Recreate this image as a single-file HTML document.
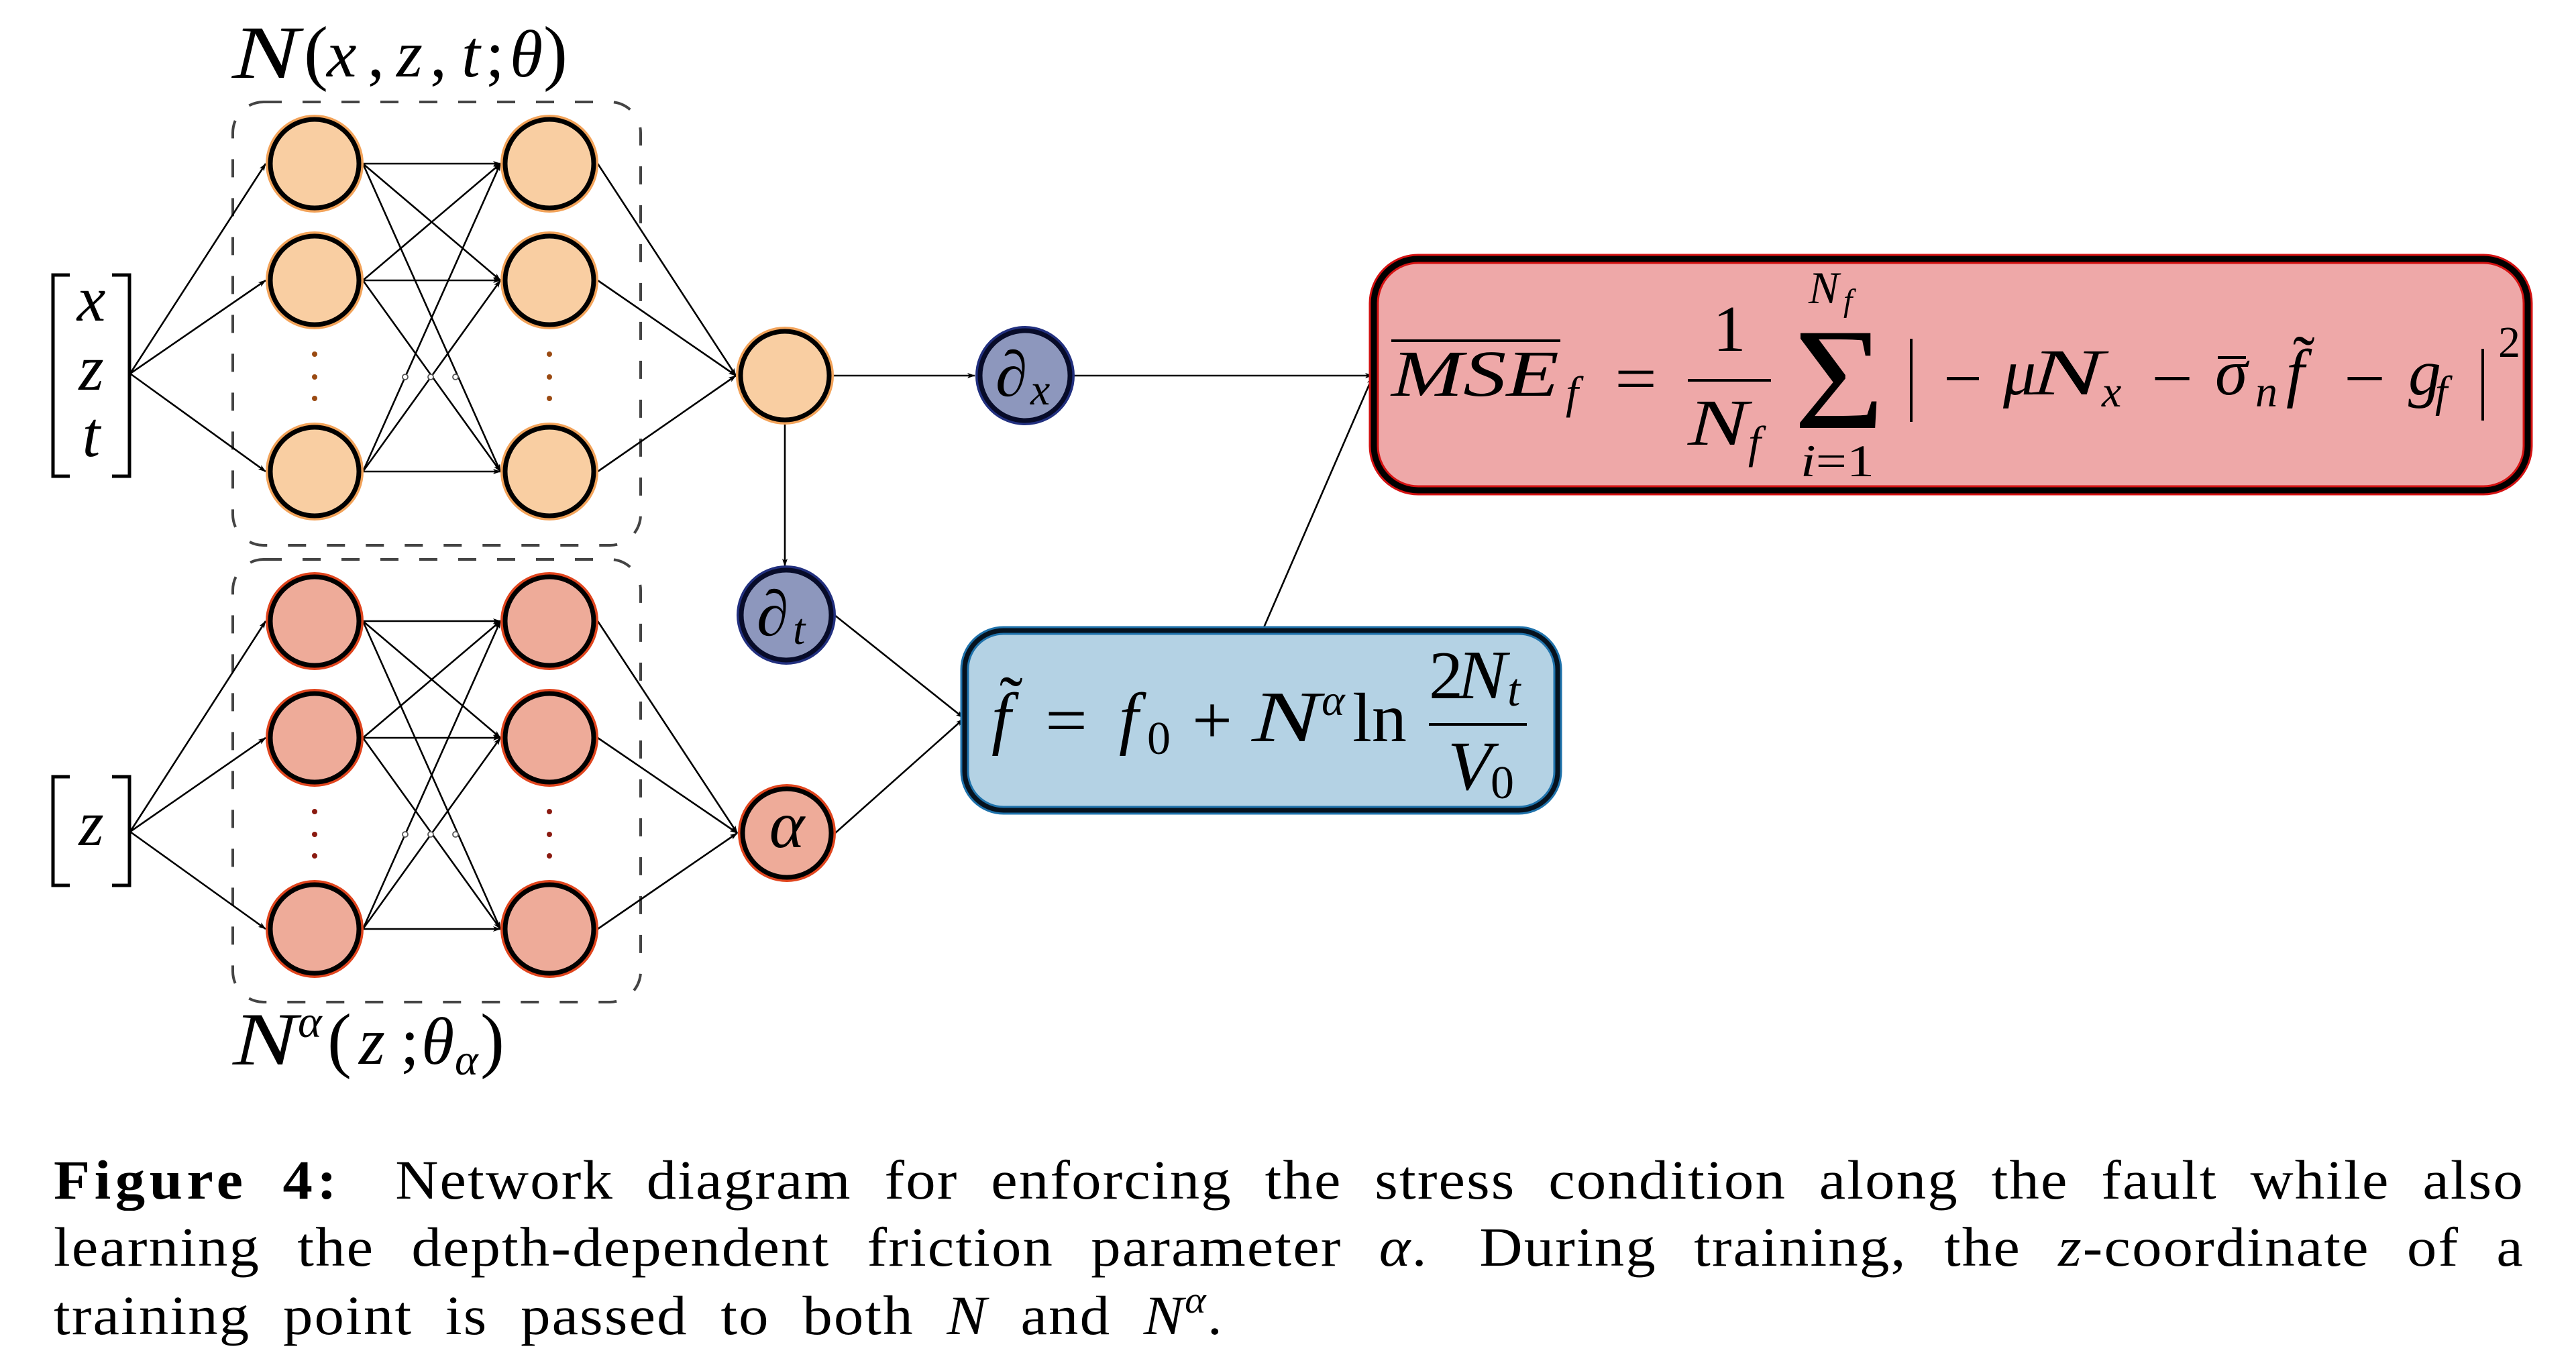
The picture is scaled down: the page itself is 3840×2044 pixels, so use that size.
<!DOCTYPE html>
<html>
<head>
<meta charset="utf-8">
<style>
  html,body{margin:0;padding:0;background:#fff;}
  body{width:3840px;height:2044px;position:relative;overflow:hidden;}
  svg{position:absolute;left:0;top:0;}
  .i{font-family:"Liberation Serif","DejaVu Serif",serif;font-style:italic;fill:#000;}
  .u{font-family:"Liberation Serif","DejaVu Serif",serif;font-style:normal;fill:#000;}
  .cap{position:absolute;left:80px;font-family:"Liberation Serif","DejaVu Serif",serif;font-size:83px;line-height:83px;
       color:#000;text-align:justify;text-align-last:justify;letter-spacing:2px;transform:scaleX(1.07);transform-origin:0 0;white-space:normal;}
  .cap i{font-style:italic;}
  .cap b{font-weight:bold;letter-spacing:6px;}
  .sup{position:relative;top:-32px;font-size:56px;font-style:italic;}
</style>
</head>
<body>
<svg width="3840" height="2044" viewBox="0 0 3840 2044" xmlns="http://www.w3.org/2000/svg">
  <defs>
    <marker id="ar" viewBox="0 0 12 8" markerWidth="12" markerHeight="8" refX="11" refY="4" orient="auto" markerUnits="userSpaceOnUse">
      <path d="M0,0 L12,4 L0,8 L3,4 Z" fill="#000"/>
    </marker>
  </defs>

  <!-- ============ Dashed boxes ============ -->
  <rect x="347" y="152" width="608" height="661" rx="46" fill="none" stroke="#444" stroke-width="4" stroke-dasharray="27 31"/>
  <rect x="347" y="834" width="608" height="660" rx="46" fill="none" stroke="#444" stroke-width="4" stroke-dasharray="27 31"/>

  <!-- ============ Connectors ============ -->
  <g stroke="#000" stroke-width="2.6" fill="none" marker-end="url(#ar)">
    <line x1="194" y1="557" x2="396" y2="244"/>
    <line x1="194" y1="557" x2="396" y2="418"/>
    <line x1="194" y1="557" x2="396" y2="703"/>
    <line x1="541" y1="244" x2="746" y2="244"/>
    <line x1="541" y1="244" x2="746" y2="418"/>
    <line x1="541" y1="244" x2="746" y2="703"/>
    <line x1="541" y1="418" x2="746" y2="244"/>
    <line x1="541" y1="418" x2="746" y2="418"/>
    <line x1="541" y1="418" x2="746" y2="703"/>
    <line x1="541" y1="703" x2="746" y2="244"/>
    <line x1="541" y1="703" x2="746" y2="418"/>
    <line x1="541" y1="703" x2="746" y2="703"/>
    <line x1="891" y1="244" x2="1097" y2="560"/>
    <line x1="891" y1="418" x2="1097" y2="560"/>
    <line x1="891" y1="703" x2="1097" y2="560"/>

    <line x1="194" y1="1240" x2="396" y2="926"/>
    <line x1="194" y1="1240" x2="396" y2="1100"/>
    <line x1="194" y1="1240" x2="396" y2="1385"/>
    <line x1="541" y1="926" x2="746" y2="926"/>
    <line x1="541" y1="926" x2="746" y2="1100"/>
    <line x1="541" y1="926" x2="746" y2="1385"/>
    <line x1="541" y1="1100" x2="746" y2="926"/>
    <line x1="541" y1="1100" x2="746" y2="1100"/>
    <line x1="541" y1="1100" x2="746" y2="1385"/>
    <line x1="541" y1="1385" x2="746" y2="926"/>
    <line x1="541" y1="1385" x2="746" y2="1100"/>
    <line x1="541" y1="1385" x2="746" y2="1385"/>
    <line x1="891" y1="926" x2="1099" y2="1242"/>
    <line x1="891" y1="1100" x2="1099" y2="1242"/>
    <line x1="891" y1="1385" x2="1099" y2="1242"/>

    <line x1="1241" y1="560" x2="1453" y2="560"/>
    <line x1="1600" y1="560" x2="2046" y2="560"/>
    <line x1="1170" y1="631" x2="1170" y2="844"/>
    <line x1="1244" y1="917" x2="1436" y2="1070"/>
    <line x1="1245" y1="1242" x2="1436" y2="1072"/>
    <line x1="1882" y1="940" x2="2046" y2="562"/>
  </g>

  <!-- small junction circles -->
  <g fill="#fff" stroke="#555" stroke-width="1.8">
    <circle cx="604" cy="562" r="4"/><circle cx="642" cy="562" r="4"/><circle cx="679" cy="562" r="4"/>
    <circle cx="604" cy="1244" r="4"/><circle cx="642" cy="1244" r="4"/><circle cx="679" cy="1244" r="4"/>
  </g>

  <!-- ============ Brackets ============ -->
  <g stroke="#000" stroke-width="5" fill="none">
    <path d="M104,410 H79 V710 H104"/>
    <path d="M167,410 H193 V710 H167"/>
    <path d="M104,1158 H79 V1320 H104"/>
    <path d="M167,1158 H193 V1320 H167"/>
  </g>
  <text class="i" x="136" y="478" font-size="96" text-anchor="middle">x</text>
  <text class="i" x="136" y="581" font-size="96" text-anchor="middle">z</text>
  <text class="i" x="136" y="680" font-size="96" text-anchor="middle">t</text>
  <text class="i" x="136" y="1260" font-size="96" text-anchor="middle">z</text>

  <!-- ============ Orange nodes ============ -->
  <g>
    <g fill="#f9cea2" stroke="#f2a35a" stroke-width="4">
      <circle cx="469" cy="244" r="71"/><circle cx="469" cy="418" r="71"/><circle cx="469" cy="703" r="71"/>
      <circle cx="819" cy="244" r="71"/><circle cx="819" cy="418" r="71"/><circle cx="819" cy="703" r="71"/>
      <circle cx="1170" cy="560" r="71"/>
    </g>
    <g fill="none" stroke="#000" stroke-width="7">
      <circle cx="469" cy="244" r="66"/><circle cx="469" cy="418" r="66"/><circle cx="469" cy="703" r="66"/>
      <circle cx="819" cy="244" r="66"/><circle cx="819" cy="418" r="66"/><circle cx="819" cy="703" r="66"/>
      <circle cx="1170" cy="560" r="66"/>
    </g>
  </g>
  <g fill="#9a4a12">
    <circle cx="469" cy="528" r="4"/><circle cx="469" cy="562" r="4"/><circle cx="469" cy="594" r="4"/>
    <circle cx="819" cy="528" r="4"/><circle cx="819" cy="562" r="4"/><circle cx="819" cy="594" r="4"/>
  </g>

  <!-- ============ Red nodes ============ -->
  <g>
    <g fill="#eeab99" stroke="#e0451e" stroke-width="4">
      <circle cx="469" cy="926" r="71"/><circle cx="469" cy="1100" r="71"/><circle cx="469" cy="1385" r="71"/>
      <circle cx="819" cy="926" r="71"/><circle cx="819" cy="1100" r="71"/><circle cx="819" cy="1385" r="71"/>
      <circle cx="1173" cy="1242" r="71"/>
    </g>
    <g fill="none" stroke="#000" stroke-width="7">
      <circle cx="469" cy="926" r="66"/><circle cx="469" cy="1100" r="66"/><circle cx="469" cy="1385" r="66"/>
      <circle cx="819" cy="926" r="66"/><circle cx="819" cy="1100" r="66"/><circle cx="819" cy="1385" r="66"/>
      <circle cx="1173" cy="1242" r="66"/>
    </g>
  </g>
  <g fill="#8a1a10">
    <circle cx="469" cy="1210" r="4"/><circle cx="469" cy="1244" r="4"/><circle cx="469" cy="1276" r="4"/>
    <circle cx="819" cy="1210" r="4"/><circle cx="819" cy="1244" r="4"/><circle cx="819" cy="1276" r="4"/>
  </g>
  <text class="i" x="1173" y="1263" font-size="100" text-anchor="middle">α</text>

  <!-- ============ Blue derivative nodes ============ -->
  <g fill="#8d97bd" stroke="#22307f" stroke-width="4">
    <circle cx="1528" cy="560" r="72"/>
    <circle cx="1172" cy="917" r="72"/>
  </g>
  <g fill="none" stroke="#070b28" stroke-width="7">
    <circle cx="1528" cy="560" r="67"/>
    <circle cx="1172" cy="917" r="67"/>
  </g>
  <text class="u" x="1484" y="590" font-size="96">∂</text>
  <text class="i" x="1536" y="603" font-size="66">x</text>
  <text class="u" x="1128" y="947" font-size="96">∂</text>
  <text class="i" x="1182" y="960" font-size="66">t</text>

  <!-- ============ Labels ============ -->
  <text class="i" x="346" y="116" font-size="112" textLength="100" lengthAdjust="spacingAndGlyphs">N</text>
  <text class="u" x="453" y="114" font-size="108">(</text>
  <text class="i" x="487" y="114" font-size="100">x</text>
  <text class="u" x="548" y="114" font-size="100">,</text>
  <text class="i" x="591" y="114" font-size="100">z</text>
  <text class="u" x="641" y="114" font-size="100">,</text>
  <text class="i" x="688" y="114" font-size="100">t</text>
  <text class="u" x="724" y="114" font-size="100">;</text>
  <text class="i" x="760" y="114" font-size="100">θ</text>
  <text class="u" x="810" y="114" font-size="108">)</text>

  <text class="i" x="347" y="1587" font-size="112" textLength="96" lengthAdjust="spacingAndGlyphs">N</text>
  <text class="i" x="444" y="1546" font-size="68">α</text>
  <text class="u" x="488" y="1586" font-size="108">(</text>
  <text class="i" x="535" y="1586" font-size="100">z</text>
  <text class="u" x="597" y="1586" font-size="100">;</text>
  <text class="i" x="628" y="1586" font-size="100">θ</text>
  <text class="i" x="678" y="1602" font-size="66">α</text>
  <text class="u" x="716" y="1586" font-size="108">)</text>

  <!-- ============ Blue formula box ============ -->
  <rect x="1438" y="940" width="884" height="268" rx="58" fill="#b4d2e4" stroke="#1f72ab" stroke-width="13"/>
  <rect x="1438" y="940" width="884" height="268" rx="58" fill="none" stroke="#06121e" stroke-width="7"/>
  <text class="i" x="1478" y="1105" font-size="104">f</text>
  <text class="u" x="1490" y="1080" font-size="104">˜</text>
  <text class="u" x="1558" y="1108" font-size="102" textLength="63" lengthAdjust="spacingAndGlyphs">=</text>
  <text class="i" x="1668" y="1105" font-size="104">f</text>
  <text class="u" x="1710" y="1124" font-size="70">0</text>
  <text class="u" x="1777" y="1108" font-size="102" textLength="60" lengthAdjust="spacingAndGlyphs">+</text>
  <text class="i" x="1866" y="1105" font-size="108" textLength="102" lengthAdjust="spacingAndGlyphs">N</text>
  <text class="i" x="1970" y="1066" font-size="66">α</text>
  <text class="u" x="2016" y="1105" font-size="104" textLength="81" lengthAdjust="spacingAndGlyphs">ln</text>
  <text class="u" x="2130" y="1041" font-size="102">2</text>
  <text class="i" x="2172" y="1041" font-size="104" textLength="74" lengthAdjust="spacingAndGlyphs">N</text>
  <text class="i" x="2247" y="1052" font-size="70">t</text>
  <line x1="2130" y1="1080" x2="2276" y2="1080" stroke="#000" stroke-width="4"/>
  <text class="i" x="2158" y="1177" font-size="104" textLength="66" lengthAdjust="spacingAndGlyphs">V</text>
  <text class="u" x="2222" y="1190" font-size="70">0</text>

  <!-- ============ MSE formula box ============ -->
  <rect x="2048" y="386" width="1720" height="345" rx="66" fill="#eea8a8" stroke="#d41212" stroke-width="15"/>
  <rect x="2048" y="386" width="1720" height="345" rx="66" fill="none" stroke="#000" stroke-width="9"/>

  <line x1="2074" y1="508" x2="2326" y2="508" stroke="#000" stroke-width="4"/>
  <text class="i" x="2074" y="590" font-size="98" textLength="250" lengthAdjust="spacingAndGlyphs">MSE</text>
  <text class="i" x="2334" y="608" font-size="68">f</text>
  <text class="u" x="2407" y="597" font-size="98" textLength="63" lengthAdjust="spacingAndGlyphs">=</text>
  <text class="u" x="2578" y="523" font-size="98" text-anchor="middle">1</text>
  <line x1="2516" y1="567" x2="2640" y2="567" stroke="#000" stroke-width="4"/>
  <text class="i" x="2516" y="663" font-size="98" textLength="90" lengthAdjust="spacingAndGlyphs">N</text>
  <text class="i" x="2606" y="682" font-size="68">f</text>
  <text class="u" x="2674" y="638" font-size="216" textLength="135" lengthAdjust="spacingAndGlyphs">Σ</text>
  <text class="i" x="2696" y="452" font-size="68">N</text>
  <text class="i" x="2748" y="464" font-size="48">f</text>
  <text x="2684" y="710" font-size="68" textLength="110" lengthAdjust="spacingAndGlyphs" class="u"><tspan class="i">i</tspan>=1</text>
  <line x1="2849" y1="505" x2="2849" y2="629" stroke="#000" stroke-width="4"/>
  <text class="u" x="2897" y="597" font-size="98" textLength="58" lengthAdjust="spacingAndGlyphs">−</text>
  <text class="i" x="2986" y="588" font-size="98">μ</text>
  <text class="i" x="3026" y="588" font-size="98" textLength="110" lengthAdjust="spacingAndGlyphs">N</text>
  <text class="i" x="3133" y="606" font-size="66">x</text>
  <text class="u" x="3207" y="597" font-size="98" textLength="62" lengthAdjust="spacingAndGlyphs">−</text>
  <text class="i" x="3302" y="588" font-size="98">σ</text>
  <line x1="3306" y1="533" x2="3348" y2="533" stroke="#000" stroke-width="4"/>
  <text class="i" x="3362" y="606" font-size="66">n</text>
  <text class="i" x="3408" y="588" font-size="98">f</text>
  <text class="u" x="3418" y="568" font-size="98">˜</text>
  <text class="u" x="3494" y="597" font-size="98" textLength="62" lengthAdjust="spacingAndGlyphs">−</text>
  <text class="i" x="3590" y="588" font-size="98">g</text>
  <text class="i" x="3630" y="606" font-size="66">f</text>
  <line x1="3701" y1="520" x2="3701" y2="627" stroke="#000" stroke-width="4"/>
  <text class="u" x="3724" y="532" font-size="66">2</text>
</svg>

<!-- ============ Caption ============ -->
<div class="cap" style="top:1718px;width:3442px;"><b>Figure 4:</b><span style="display:inline-block;width:30px"></span> Network diagram for enforcing the stress condition along the fault while also</div>
<div class="cap" style="top:1818px;width:3442px;">learning the depth-dependent friction parameter <i>α</i>.<span style="display:inline-block;width:20px"></span> During training, the <i>z</i>-coordinate of a</div>
<div class="cap" style="top:1920px;width:1630px;">training point is passed to both <i>N</i> and <i>N</i><span class="sup">α</span>.</div>
</body>
</html>
